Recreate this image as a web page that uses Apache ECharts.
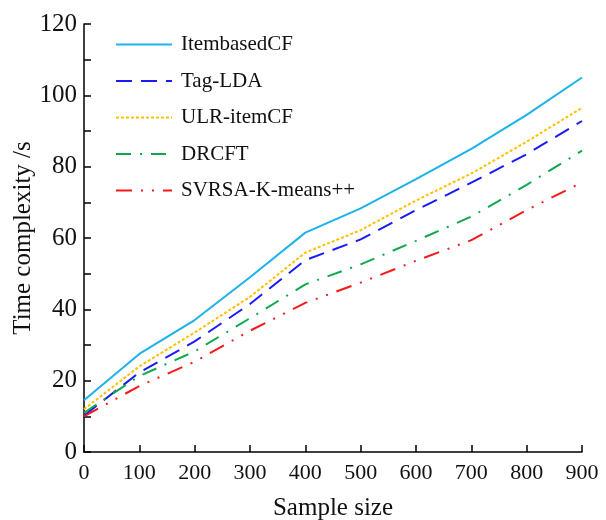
<!DOCTYPE html>
<html>
<head>
<meta charset="utf-8">
<script src="https://cdn.jsdelivr.net/npm/echarts@6/dist/echarts.min.js"></script>
<style>html,body{margin:0;padding:0;background:#fff}#c{width:606px;height:520px}</style>
</head>
<body>
<div id="c"></div>
<script>
var sampleSizes = [0, 100, 200, 300, 400, 500, 600, 700, 800, 900];
var itembasedCF = [14.5, 27.5, 37, 49, 61.5, 68.3, 76.5, 85, 94.5, 105];
var tagLDA = [10.2, 22.3, 31, 41.5, 53.8, 59.6, 67.8, 75.5, 83.5, 92.8];
var ulrItemCF = [12, 24, 33.5, 43.5, 55.9, 62.2, 70.5, 78.1, 87, 96.5];
var drcft = [11, 21.3, 28.2, 37.5, 47, 52.6, 59.2, 66, 74.9, 84.5];
var svrsa = [10, 18.5, 25.3, 34, 41.8, 47.5, 53.6, 59.4, 67.8, 75.6];
var seriesNames = ['ItembasedCF', 'Tag-LDA', 'ULR-itemCF', 'DRCFT', 'SVRSA-K-means++'];

function pairs(vals) { return sampleSizes.map(function (x, i) { return [x, vals[i]]; }); }
var FONT = '"Liberation Serif", "Times New Roman", serif';

var styles = [
  { color: '#1BB3E8', type: 'solid' },
  { color: '#1A1AF5', type: [16, 9] },
  { color: '#FFC000', type: [3, 2] },
  { color: '#10A84E', type: [15, 9, 2, 9] },
  { color: '#F51A1A', type: [16, 9, 2, 9, 2, 9] }
];
var dataSets = [itembasedCF, tagLDA, ulrItemCF, drcft, svrsa];

var chart = echarts.init(document.getElementById('c'), null, { renderer: 'canvas' });
chart.setOption({
  animation: false,
  backgroundColor: '#fff',
  grid: { left: 84, right: 24, top: 24, bottom: 68, containLabel: false, outerBoundsMode: 'none' },
  legend: {
    orient: 'vertical', left: 110, top: 29,
    itemWidth: 56, itemHeight: 20, itemGap: 15.5,
    data: seriesNames,
    itemStyle: { opacity: 0 },
    textStyle: { fontFamily: FONT, fontSize: 21, color: '#111', lineHeight: 20, padding: [0, 0, 0, 4] }
  },
  xAxis: {
    type: 'value', min: 0, max: 900, interval: 100,
    name: 'Sample size', nameLocation: 'middle', nameGap: 44, nameMoveOverlap: false,
    nameTextStyle: { fontFamily: FONT, fontSize: 25, color: '#111' },
    axisLine: { show: true, lineStyle: { color: '#000', width: 1.5 } },
    axisTick: { show: true, inside: true, length: 7, lineStyle: { color: '#000', width: 1.5 } },
    axisLabel: { fontFamily: FONT, fontSize: 22, color: '#111', margin: 10 },
    splitLine: { show: false }
  },
  yAxis: {
    type: 'value', min: 0, max: 120, interval: 20,
    name: 'Time complexity /s', nameLocation: 'middle', nameGap: 48, nameMoveOverlap: false,
    nameTextStyle: { fontFamily: FONT, fontSize: 25, color: '#111' },
    axisLine: { show: true, lineStyle: { color: '#000', width: 1.5 } },
    axisTick: { show: true, inside: true, length: 7, lineStyle: { color: '#000', width: 1.5 } },
    minorTick: { show: true, splitNumber: 2, length: 7, lineStyle: { color: '#000', width: 1.5 } },
    axisLabel: { fontFamily: FONT, fontSize: 25, color: '#111', margin: 7 },
    splitLine: { show: false },
    minorSplitLine: { show: false }
  },
  series: dataSets.map(function (d, i) {
    return {
      name: seriesNames[i], type: 'line', data: pairs(d),
      showSymbol: false, symbol: 'none',
      lineStyle: { color: styles[i].color, width: 2, type: styles[i].type },
      itemStyle: { color: styles[i].color }
    };
  })
});
</script>
</body>
</html>
